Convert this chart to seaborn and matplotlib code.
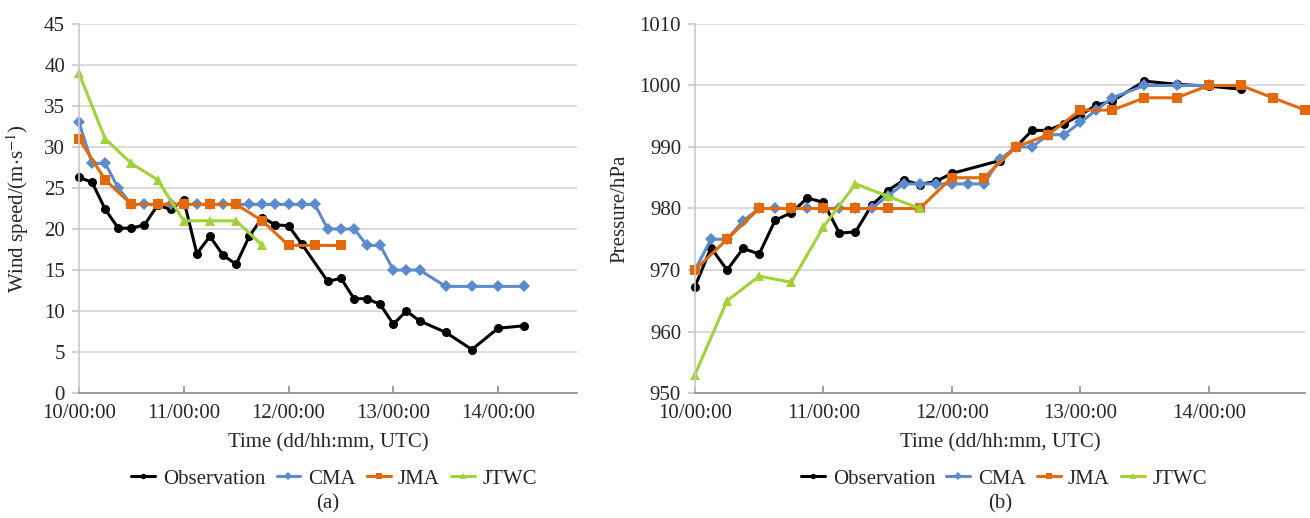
import pandas as pd
import matplotlib.pyplot as plt
import seaborn as sns

# ---- data (hours after 10/00:00 UTC) ----
obs_wind_hours = [0, 3, 6, 9, 12, 15, 18, 21, 24, 27, 30, 33, 36, 39, 42, 45, 48, 51,
                  57, 60, 63, 66, 69, 72, 75, 78, 84, 90, 96, 102]
obs_wind = [26.3, 25.7, 22.4, 20.1, 20.1, 20.5, 22.9, 22.4, 23.5, 17.0, 19.1, 16.8, 15.7,
            19.1, 21.4, 20.5, 20.4, 18.2, 13.6, 14.0, 11.5, 11.5, 10.8, 8.4, 10.0, 8.8,
            7.4, 5.3, 7.9, 8.2]

cma_wind_hours = [0, 3, 6, 9, 12, 15, 18, 21, 24, 27, 30, 33, 36, 39, 42, 45, 48, 51, 54,
                  57, 60, 63, 66, 69, 72, 75, 78, 84, 90, 96, 102]
cma_wind = [33, 28, 28, 25, 23, 23, 23, 23, 23, 23, 23, 23, 23, 23, 23, 23, 23, 23, 23,
            20, 20, 20, 18, 18, 15, 15, 15, 13, 13, 13, 13]

jma_wind_hours = [0, 6, 12, 18, 24, 30, 36, 42, 48, 54, 60]
jma_wind = [31, 26, 23, 23, 23, 23, 23, 21, 18, 18, 18]

jtwc_wind_hours = [0, 6, 12, 18, 24, 30, 36, 42]
jtwc_wind = [39, 31, 28, 26, 21, 21, 21, 18]

obs_pres_hours = [0, 3, 6, 9, 12, 15, 18, 21, 24, 27, 30, 33, 36, 39, 42, 45, 48,
                  57, 60, 63, 66, 69, 72, 75, 78, 84, 90, 96, 102]
obs_pres = [967.3, 973.6, 970.0, 973.5, 972.6, 978.1, 979.3, 981.7, 981.0, 976.0, 976.2,
            980.5, 982.9, 984.6, 983.9, 984.4, 985.7, 987.8, 990.0, 992.7, 992.7, 993.8,
            995.2, 996.8, 997.5, 1000.7, 1000.2, 999.9, 999.4]

cma_pres_hours = [0, 3, 6, 9, 12, 15, 18, 21, 24, 27, 30, 33, 36, 39, 42, 45, 48, 51, 54,
                  57, 60, 63, 66, 69, 72, 75, 78, 84, 90, 96]
cma_pres = [970, 975, 975, 978, 980, 980, 980, 980, 980, 980, 980, 980, 982, 984, 984, 984,
            984, 984, 984, 988, 990, 990, 992, 992, 994, 996, 998, 1000, 1000, 1000]

jma_pres_hours = [0, 6, 12, 18, 24, 30, 36, 42, 48, 54, 60, 66, 72, 78, 84, 90, 96, 102,
                  108, 114]
jma_pres = [970, 975, 980, 980, 980, 980, 980, 980, 985, 985, 990, 992, 996, 996, 998, 998,
            1000, 1000, 998, 996]

jtwc_pres_hours = [0, 6, 12, 18, 24, 30, 36, 42]
jtwc_pres = [953, 965, 969, 968, 977, 984, 982, 980]

day_ticks = [0, 1, 2, 3, 4]
day_labels = ["10/00:00", "11/00:00", "12/00:00", "13/00:00", "14/00:00"]

sources = ["Observation", "CMA", "JMA", "JTWC"]
colors = {"Observation": "#000000", "CMA": "#5B8BCB", "JMA": "#E4690C", "JTWC": "#A2D23A"}
markers = {"Observation": "o", "CMA": "D", "JMA": "s", "JTWC": "^"}
msizes = {"Observation": 6.5, "CMA": 6.5, "JMA": 7, "JTWC": 7.5}


def long_frame(series):
    rows = []
    for name, (hours, vals) in series.items():
        for h, v in zip(hours, vals):
            rows.append({"source": name, "day": h / 24.0, "value": v})
    return pd.DataFrame(rows)


wind_df = long_frame({"Observation": (obs_wind_hours, obs_wind),
                      "CMA": (cma_wind_hours, cma_wind),
                      "JMA": (jma_wind_hours, jma_wind),
                      "JTWC": (jtwc_wind_hours, jtwc_wind)})
pres_df = long_frame({"Observation": (obs_pres_hours, obs_pres),
                      "CMA": (cma_pres_hours, cma_pres),
                      "JMA": (jma_pres_hours, jma_pres),
                      "JTWC": (jtwc_pres_hours, jtwc_pres)})

sns.set_style("white")
plt.rcParams["font.family"] = ["Liberation Serif", "DejaVu Serif"]
plt.rcParams["mathtext.fontset"] = "stix"
plt.rcParams["font.size"] = 15

fig = plt.figure(figsize=(13.1, 5.18), dpi=100)
ax1 = fig.add_axes([0.0603, 0.2413, 0.3799, 0.7124])
ax2 = fig.add_axes([0.5305, 0.2413, 0.4657, 0.7124])


def draw_panel(ax, df, ylim, yticks, ylabel, ylabel_x, tag, leg_x):
    for name in sources:
        sub = df[df["source"] == name]
        sns.lineplot(data=sub, x="day", y="value", ax=ax, color=colors[name],
                     marker=markers[name], markersize=msizes[name], markeredgewidth=0,
                     linewidth=2.2, label=name, clip_on=False)
    ax.set_xlim(0, 4.75)
    ax.set_ylim(*ylim)
    ax.set_yticks(yticks)
    ax.set_xticks(day_ticks)
    ax.set_xticklabels(day_labels)
    ax.grid(axis="y", color="#D4D4D4", linewidth=1.2)
    ax.grid(axis="x", visible=False)
    ax.set_axisbelow(True)
    for side in ["top", "right"]:
        ax.spines[side].set_visible(False)
    ax.spines["left"].set_color("#C8C8C8")
    ax.spines["left"].set_linewidth(1.2)
    ax.spines["bottom"].set_color("#8C8C8C")
    ax.spines["bottom"].set_linewidth(1.2)
    ax.tick_params(axis="x", direction="in", length=5, width=1.2, color="#8C8C8C",
                   pad=8, labelsize=15, bottom=True)
    ax.tick_params(axis="y", direction="out", length=5, width=1.2, color="#C8C8C8",
                   pad=5, labelsize=15, left=True)
    ax.set_xlabel("Time (dd/hh:mm, UTC)", fontsize=15)
    ax.xaxis.set_label_coords(0.5, -0.11)
    ax.set_ylabel(ylabel, fontsize=15)
    ax.yaxis.set_label_coords(ylabel_x, 0.5)
    ax.legend(loc="center", bbox_to_anchor=(leg_x, -0.233), ncol=4, frameon=False,
              fontsize=15, handlelength=1.15, handletextpad=0.35, columnspacing=0.55,
              markerscale=0.6)
    ax.text(0.5, -0.3, tag, transform=ax.transAxes, ha="center", va="center", fontsize=15)


draw_panel(ax1, wind_df, (0, 45), list(range(0, 50, 5)), r"Wind speed/(m$\cdot$s$^{-1}$)",
           -0.097, "(a)", 0.513)
draw_panel(ax2, pres_df, (950, 1010), list(range(950, 1020, 10)), "Pressure/hPa",
           -0.107, "(b)", 0.507)

fig.savefig("out.png", dpi=100)
